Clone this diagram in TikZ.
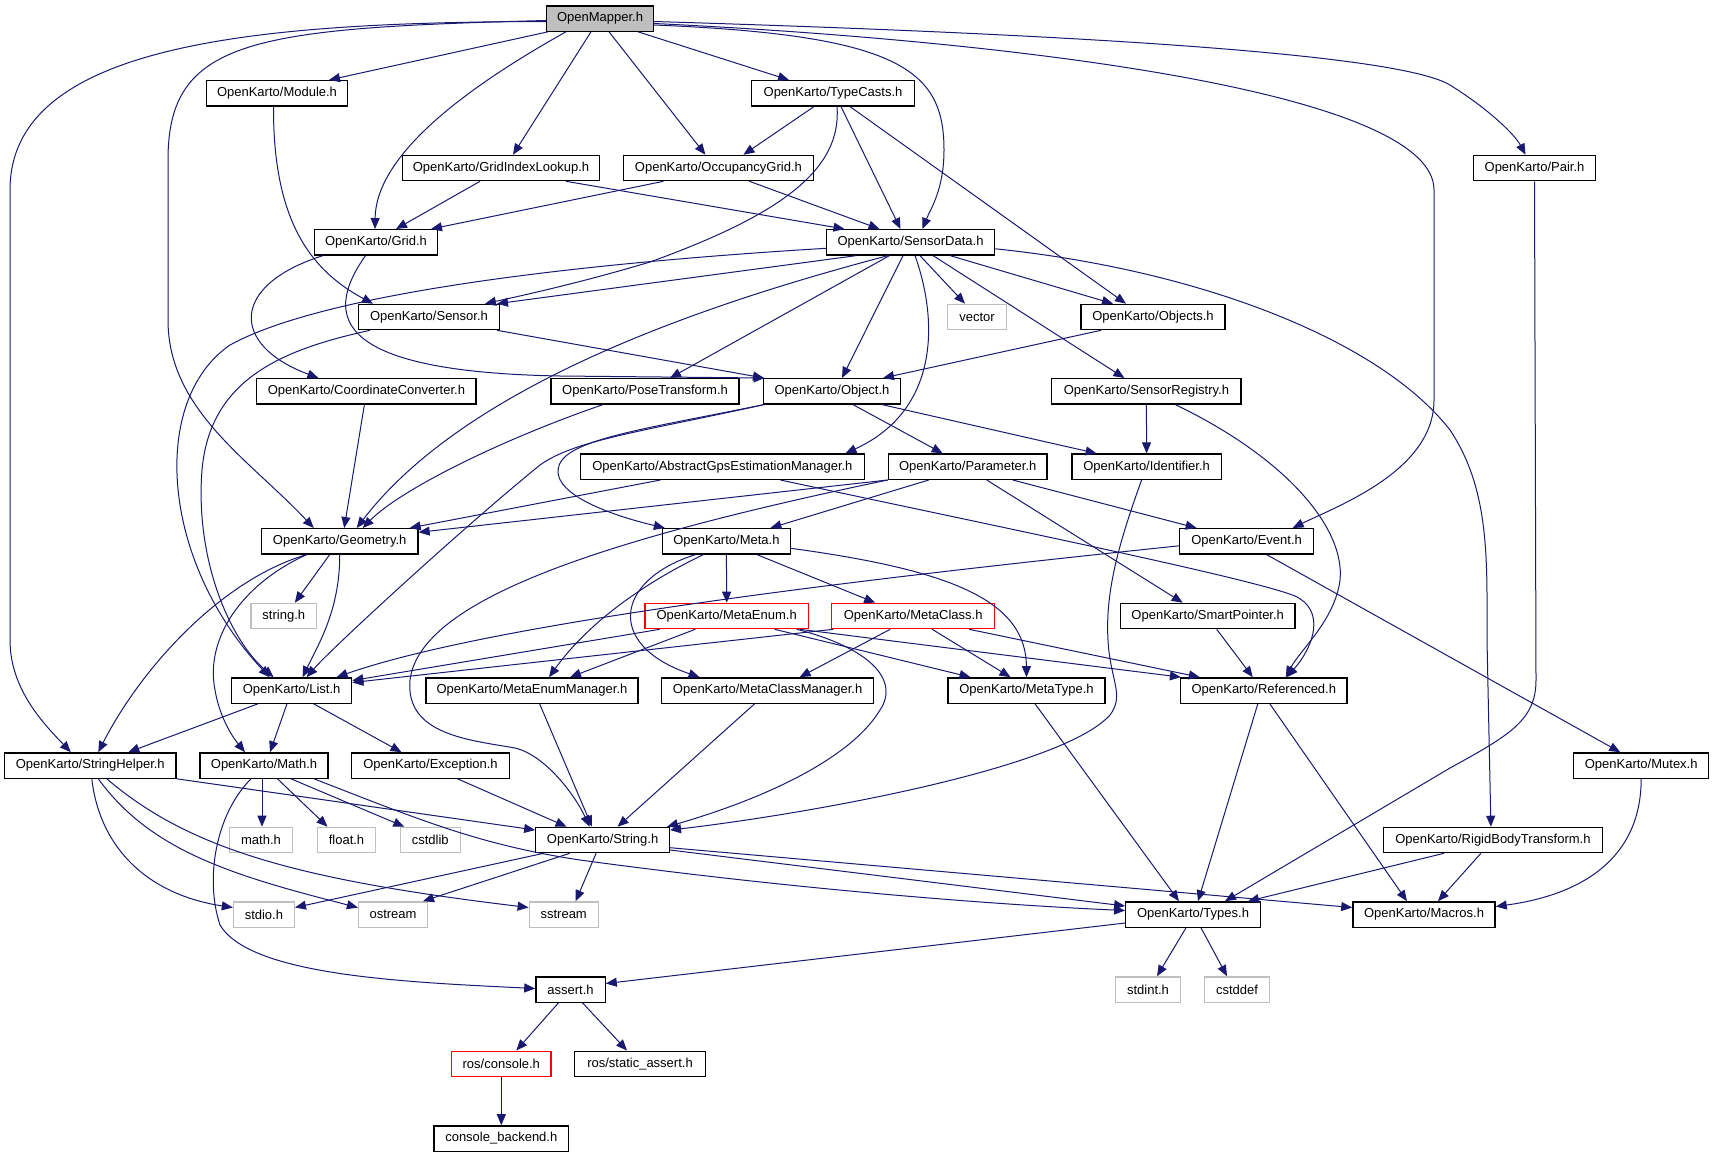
\documentclass[tikz,border=0pt]{standalone}
\usepackage{fontspec}
\setmainfont{Liberation Sans}
\usetikzlibrary{arrows.meta}
\definecolor{edgeblue}{HTML}{191970}
\definecolor{grey75}{HTML}{BFBFBF}
\begin{document}
\begin{tikzpicture}[x=1pt,y=-1pt,
  box/.style={draw=black, fill=white, line width=1.3pt, rectangle, minimum height=25.3pt, inner sep=0pt, font=\fontsize{13}{15}\selectfont},
  sysbox/.style={box, draw=grey75},
  redbox/.style={box, draw=red},
  e/.style={draw=edgeblue, line width=1pt, -{Triangle[length=11pt,width=9pt]}, line join=round}]
\useasboundingbox (0,0) rectangle (1713,1157);
\fill[white] (0,0) rectangle (1713,1157);

\node[box, fill=grey75, minimum width=107pt] (OM) at (600,18.5) {OpenMapper.h};
\node[box, minimum width=141pt] (MOD) at (277,93.3) {OpenKarto/Module.h};
\node[box, minimum width=163pt] (TC) at (833,93.3) {OpenKarto/TypeCasts.h};
\node[box, minimum width=196.5pt] (GIL) at (501,168) {OpenKarto/GridIndexLookup.h};
\node[box, minimum width=190pt] (OG) at (718.4,168) {OpenKarto/OccupancyGrid.h};
\node[box, minimum width=122.4pt] (PAIR) at (1534.5,168) {OpenKarto/Pair.h};
\node[box, minimum width=122.4pt] (GRID) at (376,242.3) {OpenKarto/Grid.h};
\node[box, minimum width=168.2pt] (SD) at (910.5,242.3) {OpenKarto/SensorData.h};
\node[box, minimum width=140.4pt] (SENS) at (429,317) {OpenKarto/Sensor.h};
\node[sysbox, minimum width=58.5pt] (VEC) at (977,317) {vector};
\node[box, minimum width=144pt] (OBJS) at (1153,317) {OpenKarto/Objects.h};
\node[box, minimum width=219.2pt] (CC) at (366.4,391.3) {OpenKarto/CoordinateConverter.h};
\node[box, minimum width=188pt] (PT) at (645,391.3) {OpenKarto/PoseTransform.h};
\node[box, minimum width=137.5pt] (OBJ) at (832,391.3) {OpenKarto/Object.h};
\node[box, minimum width=189.3pt] (SR) at (1146.4,391.3) {OpenKarto/SensorRegistry.h};
\node[box, minimum width=284.4pt] (AGPS) at (722.4,466.7) {OpenKarto/AbstractGpsEstimationManager.h};
\node[box, minimum width=158.8pt] (PAR) at (967.7,466.7) {OpenKarto/Parameter.h};
\node[box, minimum width=149.2pt] (IDF) at (1146.6,466.7) {OpenKarto/Identifier.h};
\node[box, minimum width=156.6pt] (GEO) at (339.7,541.3) {OpenKarto/Geometry.h};
\node[box, minimum width=127.8pt] (META) at (726.4,541.3) {OpenKarto/Meta.h};
\node[box, minimum width=133.7pt] (EVT) at (1246.6,541.3) {OpenKarto/Event.h};
\node[sysbox, minimum width=65.5pt] (STRH) at (283.8,616) {string.h};
\node[redbox, minimum width=163.3pt] (MENUM) at (726.7,616) {OpenKarto/MetaEnum.h};
\node[redbox, minimum width=163pt] (MCLS) at (913.2,616) {OpenKarto/MetaClass.h};
\node[box, minimum width=174.7pt] (SP) at (1207.7,616) {OpenKarto/SmartPointer.h};
\node[box, minimum width=120.2pt] (LIST) at (291.6,690.5) {OpenKarto/List.h};
\node[box, minimum width=212pt] (MEM) at (532,690.5) {OpenKarto/MetaEnumManager.h};
\node[box, minimum width=212.4pt] (MCM) at (767.6,690.5) {OpenKarto/MetaClassManager.h};
\node[box, minimum width=157pt] (MTYPE) at (1026.5,690.5) {OpenKarto/MetaType.h};
\node[box, minimum width=166.5pt] (REF) at (1263.8,690.5) {OpenKarto/Referenced.h};
\node[box, minimum width=171.4pt] (SH) at (90.3,765.5) {OpenKarto/StringHelper.h};
\node[box, minimum width=128.2pt] (MATH) at (264,765.5) {OpenKarto/Math.h};
\node[box, minimum width=157.7pt] (EXC) at (430.5,765.5) {OpenKarto/Exception.h};
\node[box, minimum width=134.9pt] (MUTEX) at (1641.2,765.5) {OpenKarto/Mutex.h};
\node[sysbox, minimum width=62.8pt] (MATHH) at (261,840) {math.h};
\node[sysbox, minimum width=58.5pt] (FLOAT) at (346.5,840) {float.h};
\node[sysbox, minimum width=60.1pt] (CSTD) at (430.3,840) {cstdlib};
\node[box, minimum width=133.6pt] (STR) at (602.6,840) {OpenKarto/String.h};
\node[box, minimum width=218.9pt] (RBT) at (1492.9,840) {OpenKarto/RigidBodyTransform.h};
\node[sysbox, minimum width=60.9pt] (STDIO) at (263.9,914.5) {stdio.h};
\node[sysbox, minimum width=68.9pt] (OST) at (393,914.5) {ostream};
\node[sysbox, minimum width=68.9pt] (SST) at (563.7,914.5) {sstream};
\node[box, minimum width=134.5pt] (TYPES) at (1193,914.5) {OpenKarto/Types.h};
\node[box, minimum width=142.2pt] (MAC) at (1424,914.5) {OpenKarto/Macros.h};
\node[box, minimum width=69.3pt] (ASSERT) at (570.5,989.5) {assert.h};
\node[sysbox, minimum width=65.3pt] (STDINT) at (1148,989.5) {stdint.h};
\node[sysbox, minimum width=64.9pt] (CSTDDEF) at (1237,989.5) {cstddef};
\node[redbox, minimum width=99.4pt] (ROSC) at (501.3,1063.8) {ros/console.h};
\node[box, minimum width=131pt] (RSA) at (640,1063.8) {ros/static\_assert.h};
\node[box, minimum width=134.7pt] (CB) at (501.3,1138.5) {console\_backend.h};

% OpenMapper.h
\draw[e] ([yshift=-3pt]OM.west) .. controls (250,22) and (10,45) .. (10,190) -- (10,640) .. controls (10,690) and (45,725) .. ([xshift=-19.5pt]SH.north);
\draw[e] ([yshift=-2pt]OM.west) .. controls (250,28) and (168,40) .. (168,160) -- (168,320) .. controls (168,410) and (250,460) .. ([xshift=-26pt]GEO.north);
\draw[e] ([xshift=-52pt]OM.south) -- ([xshift=52pt]MOD.north);
\draw[e] ([xshift=-34pt]OM.south) .. controls (480,80) and (376,150) .. ([xshift=-1pt]GRID.north);
\draw[e] ([xshift=-9pt]OM.south) -- ([xshift=12pt]GIL.north);
\draw[e] ([xshift=9pt]OM.south) -- ([xshift=-13pt]OG.north);
\draw[e] ([xshift=38pt]OM.south) -- ([xshift=-44pt]TC.north);
\draw[e] ([yshift=-6.5pt]OM.east) .. controls (900,35) and (944,70) .. (944,150) .. controls (944,190) and (930,210) .. ([xshift=12pt]SD.north);
\draw[e] ([yshift=-5pt]OM.east) .. controls (1000,40) and (1434,90) .. (1434,190) -- (1434,400) .. controls (1434,470) and (1340,505) .. ([xshift=46pt]EVT.north);
\draw[e] ([yshift=-3pt]OM.east) .. controls (1100,35) and (1400,55) .. (1450,85) .. controls (1490,110) and (1515,135) .. ([xshift=-9pt]PAIR.north);

% Module.h
\draw[e] ([xshift=-3.5pt]MOD.south) .. controls (273,220) and (310,270) .. ([xshift=-56pt]SENS.north);

% TypeCasts.h
\draw[e] ([xshift=-19pt]TC.south) -- ([xshift=25pt]OG.north);
\draw[e] ([xshift=4pt]TC.south) .. controls (842,170) and (780,215) .. (650,262) .. controls (580,283) and (520,296) .. ([xshift=56pt]SENS.north);
\draw[e] ([xshift=8pt]TC.south) -- ([xshift=-10pt]SD.north);
\draw[e] ([xshift=17pt]TC.south) -- ([xshift=-27pt]OBJS.north);

% GridIndexLookup.h, OccupancyGrid.h
\draw[e] ([xshift=-21pt]GIL.south) -- ([xshift=20pt]GRID.north);
\draw[e] ([xshift=65pt]GIL.south) -- ([xshift=-66pt]SD.north);
\draw[e] ([xshift=-55pt]OG.south) -- ([xshift=55pt]GRID.north);
\draw[e] ([xshift=31pt]OG.south) -- ([xshift=-31pt]SD.north);

% Grid.h
\draw[e] ([xshift=-53pt]GRID.south) .. controls (230,285) and (230,345) .. ([xshift=-48pt]CC.north);
\draw[e] ([xshift=-10.5pt]GRID.south) .. controls (320,320) and (340,372) .. (560,376) -- ([xshift=2pt]OBJ.north west);

% SensorData.h
\draw[e] ([yshift=-6pt]SD.west) .. controls (600,262) and (330,290) .. (230,345) .. controls (150,400) and (160,560) .. ([xshift=-22pt]LIST.north);
\draw[e] ([xshift=-54pt]SD.south) -- ([xshift=68pt]SENS.north);
\draw[e] ([xshift=-22.5pt]SD.south) .. controls (720,300) and (470,380) .. ([xshift=17pt]GEO.north);
\draw[e] ([xshift=-21pt]SD.south) -- ([xshift=25pt]PT.north);
\draw[e] ([xshift=-7.5pt]SD.south) -- ([xshift=10pt]OBJ.north);
\draw[e] ([xshift=4.5pt]SD.south) .. controls (938,320) and (940,410) .. ([xshift=123pt]AGPS.north);
\draw[e] ([xshift=9.5pt]SD.south) -- ([xshift=-12pt]VEC.north);
\draw[e] ([xshift=22.5pt]SD.south) -- ([xshift=-22pt]SR.north);
\draw[e] ([xshift=39.5pt]SD.south) -- ([xshift=-40pt]OBJS.north);
\draw[e] ([yshift=-6.5pt]SD.east) .. controls (1200,270) and (1380,340) .. (1450,430) .. controls (1490,490) and (1487,560) .. (1487,640) -- ([xshift=-2pt]RBT.north);

% Sensor.h
\draw[e] ([xshift=68pt]SENS.south) -- ([xshift=-68pt]OBJ.north);
\draw[e] ([xshift=-59pt]SENS.south) .. controls (280,350) and (210,380) .. (202,470) .. controls (195,560) and (230,640) .. ([xshift=-18pt]LIST.north);

% Objects.h, PoseTransform.h, CoordinateConverter.h
\draw[e] ([xshift=-52pt]OBJS.south) -- ([xshift=51pt]OBJ.north);
\draw[e] ([xshift=-42pt]PT.south) .. controls (500,440) and (400,490) .. ([xshift=23pt]GEO.north);
\draw[e] ([xshift=-2pt]CC.south) -- ([xshift=4.5pt]GEO.north);

% Object.h
\draw[e] ([xshift=-68pt]OBJ.south) .. controls (640,432) and (575,440) .. (540,465) .. controls (460,530) and (330,650) .. ([xshift=15pt]LIST.north);
\draw[e] ([xshift=-68pt]OBJ.south) .. controls (640,430) and (560,440) .. (558,470) .. controls (556,495) and (610,515) .. ([xshift=3pt]META.north west);
\draw[e] ([xshift=21pt]OBJ.south) -- ([xshift=-25pt]PAR.north);
\draw[e] ([xshift=50pt]OBJ.south) -- ([xshift=-50pt]IDF.north);

% SensorRegistry.h
\draw[e] (SR.south) -- (IDF.north);
\draw[e] ([xshift=29pt]SR.south) .. controls (1290,460) and (1345,530) .. (1340,580) .. controls (1335,620) and (1300,650) .. ([xshift=22pt]REF.north);

% AbstractGpsEstimationManager.h
\draw[e] ([xshift=-62pt]AGPS.south) -- ([xshift=70pt]GEO.north);
\draw[e] ([xshift=58pt]AGPS.south) .. controls (1000,527) and (1250,578) .. (1295,596) .. controls (1325,610) and (1315,645) .. ([xshift=23pt]REF.north);

% Parameter.h
\draw[e] (PAR.south west) -- ([yshift=9pt]GEO.east);
\draw[e] ([xshift=-39pt]PAR.south) -- ([xshift=44pt]META.north);
\draw[e] ([xshift=-80pt]PAR.south) .. controls (600,540) and (420,600) .. (410,680) .. controls (405,735) and (470,740) .. (515,748) .. controls (545,755) and (575,795) .. ([xshift=-13pt]STR.north);
\draw[e] ([xshift=45pt]PAR.south) -- ([xshift=-50pt]EVT.north);
\draw[e] ([xshift=19pt]PAR.south) -- ([xshift=-25pt]SP.north);

% Identifier.h
\draw[e] ([xshift=-5pt]IDF.south) .. controls (1120,540) and (1105,590) .. (1108,640) .. controls (1110,680) and (1125,695) .. (1110,715) .. controls (1060,770) and (800,815) .. ([yshift=10pt]STR.east);

% Event.h
\draw[e] ([yshift=-4.5pt]EVT.west) .. controls (900,575) and (500,620) .. ([xshift=45pt]LIST.north);
\draw[e] ([xshift=20pt]EVT.south) -- ([xshift=-21pt]MUTEX.north);

% Geometry.h
\draw[e] ([xshift=-10pt]GEO.south) -- ([xshift=11pt]STRH.north);
\draw[e] (GEO.south) .. controls (340,610) and (318,645) .. ([xshift=11pt]LIST.north);
\draw[e] ([xshift=-33pt]GEO.south) .. controls (220,580) and (140,670) .. ([xshift=8pt]SH.north);
\draw[e] ([xshift=-33pt]GEO.south) .. controls (240,585) and (205,640) .. (215,690) .. controls (220,720) and (235,740) .. ([xshift=-19pt]MATH.north);

% Meta.h
\draw[e] (META.south) -- (MENUM.north);
\draw[e] ([xshift=30.5pt]META.south) -- ([xshift=-38pt]MCLS.north);
\draw[e] ([yshift=-7pt]META.east) .. controls (950,570) and (1026,600) .. (MTYPE.north);
\draw[e] ([xshift=-23pt]META.south) .. controls (650,580) and (590,620) .. ([xshift=17pt]MEM.north);
\draw[e] ([xshift=-31pt]META.south) .. controls (615,580) and (605,645) .. ([xshift=-68pt]MCM.north);

% MetaEnum.h
\draw[e] ([xshift=-67pt]MENUM.south) -- ([yshift=10pt]LIST.east);
\draw[e] ([xshift=-31.5pt]MENUM.south) -- ([xshift=38pt]MEM.north);
\draw[e] ([xshift=48pt]MENUM.south) -- ([xshift=-56pt]MTYPE.north);
\draw[e] ([xshift=73pt]MENUM.south) -- ([xshift=1pt]REF.north west);
\draw[e] ([xshift=70pt]MENUM.south) .. controls (870,648) and (900,680) .. (880,710) .. controls (850,760) and (760,800) .. ([xshift=-3pt]STR.north east);

% MetaClass.h
\draw[e] ([xshift=-80pt]MCLS.south) -- ([yshift=8pt]LIST.east);
\draw[e] ([xshift=-23pt]MCLS.south) -- ([xshift=32pt]MCM.north);
\draw[e] ([xshift=19pt]MCLS.south) -- ([xshift=-16pt]MTYPE.north);
\draw[e] ([xshift=56pt]MCLS.south) -- ([xshift=-64pt]REF.north);

% SmartPointer.h
\draw[e] ([xshift=9pt]SP.south) -- ([xshift=-11pt]REF.north);

% List.h
\draw[e] ([xshift=-33.6pt]LIST.south) -- ([xshift=38pt]SH.north);
\draw[e] ([xshift=-4.6pt]LIST.south) -- ([xshift=6pt]MATH.north);
\draw[e] ([xshift=22pt]LIST.south) -- ([xshift=-29pt]EXC.north);

% managers
\draw[e] ([xshift=7.6pt]MEM.south) -- ([xshift=-10.6pt]STR.north);
\draw[e] ([xshift=-13pt]MCM.south) -- ([xshift=15pt]STR.north);

% MetaType.h, Referenced.h
\draw[e] ([xshift=8.5pt]MTYPE.south) -- ([xshift=-14pt]TYPES.north);
\draw[e] ([xshift=-6pt]REF.south) -- ([xshift=5pt]TYPES.north);
\draw[e] ([xshift=6pt]REF.south) -- ([xshift=-17pt]MAC.north);

% Pair.h
\draw[e] (PAIR.south) -- (1536,680) .. controls (1536,720) and (1510,735) .. (1450,768) -- ([xshift=32pt]TYPES.north);

% RigidBodyTransform.h, Mutex.h
\draw[e] ([xshift=-49pt]RBT.south) -- ([xshift=55pt]TYPES.north);
\draw[e] ([xshift=-12pt]RBT.south) -- ([xshift=14pt]MAC.north);
\draw[e] (MUTEX.south) .. controls (1641,860) and (1580,895) .. ([yshift=8pt]MAC.east);

% StringHelper.h
\draw[e] (SH.south east) -- ([yshift=10pt]STR.west);
\draw[e] ([xshift=1.5pt]SH.south) .. controls (100,850) and (150,895) .. ([yshift=7pt]STDIO.west);
\draw[e] ([xshift=8pt]SH.south) .. controls (150,850) and (230,875) .. ([yshift=7pt]OST.west);
\draw[e] ([xshift=16.5pt]SH.south) .. controls (190,850) and (300,880) .. ([yshift=7pt]SST.west);

% Math.h
\draw[e] ([xshift=-2pt]MATH.south) -- ([xshift=1pt]MATHH.north);
\draw[e] ([xshift=13.5pt]MATH.south) -- ([xshift=-19pt]FLOAT.north);
\draw[e] ([xshift=27pt]MATH.south) -- ([xshift=-26pt]CSTD.north);
\draw[e] ([xshift=50pt]MATH.south) .. controls (420,820) and (480,845) .. (580,860) .. controls (800,890) and (1000,905) .. ([yshift=4pt]TYPES.west);
\draw[e] ([xshift=-13pt]MATH.south) .. controls (215,815) and (205,880) .. (220,925) .. controls (250,975) and (400,982) .. ([yshift=1pt]ASSERT.west);

% Exception.h
\draw[e] ([xshift=27pt]EXC.south) -- ([xshift=-36pt]STR.north);

% String.h
\draw[e] ([xshift=-59pt]STR.south) -- ([yshift=7pt]STDIO.east);
\draw[e] ([xshift=-33pt]STR.south) -- ([xshift=30pt]OST.north);
\draw[e] ([xshift=-6.5pt]STR.south) -- ([xshift=12pt]SST.north);
\draw[e] ([yshift=-10pt]STR.east) -- ([yshift=8.5pt]TYPES.west);
\draw[e] ([yshift=-7.7pt]STR.east) -- ([yshift=7pt]MAC.west);

% Types.h
\draw[e] ([yshift=-8.5pt]TYPES.west) -- ([yshift=6pt]ASSERT.east);
\draw[e] ([xshift=-7pt]TYPES.south) -- ([xshift=9pt]STDINT.north);
\draw[e] ([xshift=8pt]TYPES.south) -- ([xshift=-10pt]CSTDDEF.north);

% assert.h, ros/console.h
\draw[e] ([xshift=-12pt]ASSERT.south) -- ([xshift=15pt]ROSC.north);
\draw[e] ([xshift=12pt]ASSERT.south) -- ([xshift=-13pt]RSA.north);
\draw[e] (ROSC) -- (CB);
\end{tikzpicture}
\end{document}
